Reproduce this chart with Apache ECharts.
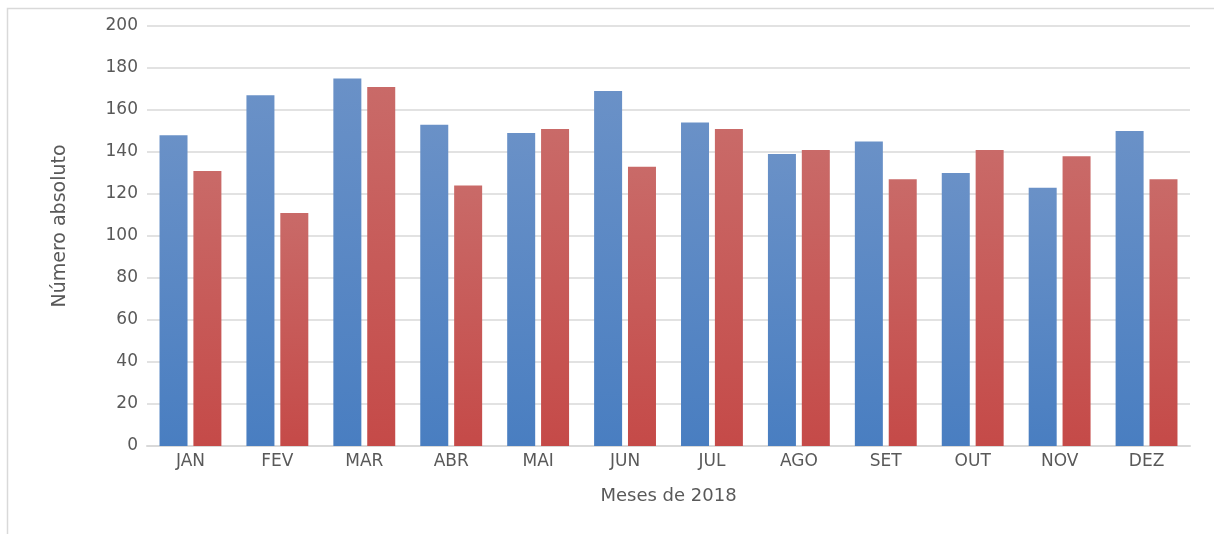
<!DOCTYPE html>
<html>
<head>
<meta charset="utf-8">
<script src="https://cdn.jsdelivr.net/npm/echarts@6/dist/echarts.min.js"></script>
<style>
  html, body { margin: 0; padding: 0; background: #ffffff; }
  #chart { width: 1214px; height: 534px; }
</style>
</head>
<body>
<div id="chart"></div>
<script>
// Monthly counts, 2018
const months = ['JAN', 'FEV', 'MAR', 'ABR', 'MAI', 'JUN', 'JUL', 'AGO', 'SET', 'OUT', 'NOV', 'DEZ'];
const seriesA = [148, 167, 175, 153, 149, 169, 154, 139, 145, 130, 123, 150];
const seriesB = [131, 111, 171, 124, 151, 133, 151, 141, 127, 141, 138, 127];
const yTicks = [0, 20, 40, 60, 80, 100, 120, 140, 160, 180, 200];

const textColor = '#595959';
const font = "'DejaVu Sans', Verdana, sans-serif";

function vgrad(top, bottom) {
  return new echarts.graphic.LinearGradient(0, 0, 0, 1, [
    { offset: 0, color: top },
    { offset: 1, color: bottom }
  ]);
}

const chart = echarts.init(document.getElementById('chart'));
chart.setOption({
  animation: false,
  backgroundColor: '#ffffff',
  graphic: [{
    type: 'rect',
    left: 5, top: 6,
    shape: { width: 1400, height: 700 },
    style: { fill: 'none', stroke: '#d9d9d9', lineWidth: 1.5 },
    silent: true,
    z: -1
  }],
  grid: { left: 147, right: 24, top: 26, bottom: 88 },
  xAxis: {
    type: 'category',
    data: months,
    name: 'Meses de 2018',
    nameLocation: 'middle',
    nameGap: 41,
    nameTextStyle: { color: textColor, fontFamily: font, fontSize: 18 },
    axisLine: { lineStyle: { color: '#d9d9d9', width: 2 } },
    axisTick: { show: false },
    axisLabel: { color: textColor, fontFamily: font, fontSize: 17, margin: 7 }
  },
  yAxis: {
    type: 'value',
    min: yTicks[0],
    max: yTicks[yTicks.length - 1],
    interval: yTicks[1] - yTicks[0],
    name: 'Número absoluto',
    nameLocation: 'middle',
    nameGap: 77,
    nameTextStyle: { color: textColor, fontFamily: font, fontSize: 19, padding: [0, 0, 0, 20] },
    axisLine: { show: false },
    axisTick: { show: false },
    axisLabel: { color: textColor, fontFamily: font, fontSize: 17, margin: 9 },
    splitLine: { lineStyle: { color: '#d9d9d9', width: 1.5 } }
  },
  series: [
    {
      type: 'bar',
      data: seriesA,
      barWidth: 28,
      barGap: '21%',
      itemStyle: { color: vgrad('#6a91c7', '#497ec1') }
    },
    {
      type: 'bar',
      data: seriesB,
      barWidth: 28,
      barGap: '21%',
      itemStyle: { color: vgrad('#c96a68', '#c54a48') }
    }
  ]
});
</script>
</body>
</html>
